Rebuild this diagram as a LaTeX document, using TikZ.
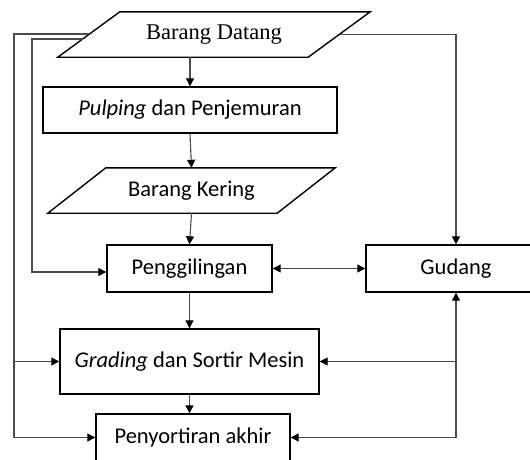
\documentclass[tikz,border=0pt]{standalone}
\usepackage{fontspec}
\setmainfont{Carlito}
\newfontfamily\sansf{Carlito}
\newfontfamily\serf{Liberation Serif}
\usetikzlibrary{arrows.meta,calc}
\tikzset{
  box/.style={draw=black, line width=1.4pt, inner sep=0pt, align=center,
              font=\sansf\fontsize{22.5}{27}\selectfont},
  plain/.style={inner sep=0pt, align=center},
  conn/.style={draw=black!70, line width=1.1pt},
  arr/.style={conn, -{Triangle[length=8pt,width=8pt,color=black]}},
  barr/.style={conn, {Triangle[length=8pt,width=8pt,color=black]}-{Triangle[length=8pt,width=8pt,color=black]}},
  para/.style={draw=black, line width=1.4pt, line join=miter}
}
\begin{document}
\begin{tikzpicture}[x=1pt,y=-1pt]
\useasboundingbox (0,0) rectangle (530,459);
\clip (0,0) rectangle (530,459);
% nodes
\node[plain, minimum width=312pt, minimum height=45pt, font=\serf\fontsize{22.5}{27}\selectfont] (bd) at (214,34.5) {Barang Datang};
\node[box, minimum width=294pt, minimum height=46pt] (pul) at (190,110) {\textit{Pulping} dan Penjemuran};
\node[plain, minimum width=287pt, minimum height=45pt, font=\sansf\fontsize{22.5}{27}\selectfont] (bk) at (191.5,190.5) {Barang Kering};
\node[box, minimum width=165pt, minimum height=47pt] (pg) at (189.5,268.5) {Penggilingan};
\node[box, minimum width=180pt, minimum height=47pt] (gd) at (456,268.5) {Gudang};
\node[box, minimum width=259pt, minimum height=65pt] (gr) at (189.5,361.5) {\textit{Grading} dan Sortir Mesin};
\node[box, minimum width=194pt, minimum height=47pt] (pen) at (193,437.5) {Penyortiran akhir};
% parallelograms
\draw[para] (bd.south west) -- ([xshift=62pt]bd.north west) -- (bd.north east) -- ([xshift=-62pt]bd.south east) -- cycle;
\draw[para] (bk.south west) -- ([xshift=58pt]bk.north west) -- (bk.north east) -- ([xshift=-58pt]bk.south east) -- cycle;
% helper coordinates on parallelogram edges
\coordinate (bdL1) at ($(bd.south west)!0.511!([xshift=62pt]bd.north west)$);
\coordinate (bdL2) at ($(bd.south west)!0.40!([xshift=62pt]bd.north west)$);
\coordinate (bdR) at ($(bd.north east)!0.49!([xshift=-62pt]bd.south east)$);
\coordinate (outx) at (14,0);
\coordinate (inx) at (32,0);
% vertical flow
\draw[arr] (bd.south -| pul.north) -- (pul.north);
\draw[arr] (pul.south) -- (bk.north);
\draw[arr] (bk.south) -- (pg.north);
\draw[arr] (pg.south) -- (gr.north);
\draw[arr] (gr.south) -- (gr.south |- pen.north);
% Penggilingan <-> Gudang
\draw[barr] (pg.east) -- (gd.west);
% right feed to Gudang
\draw[arr] (bdR) -| (gd.north);
% inner left feed to Penggilingan
\draw[arr] (bdL2) -| ([yshift=-3.5pt]inx |- pg.west) -- ([yshift=-3.5pt]pg.west);
% outer left feed
\draw[conn] (bdL1) -| (outx |- pen.west);
\draw[arr] (outx |- pen.west) -- (pen.west);
\draw[arr] (outx |- gr.west) -- (gr.west);
% from Gudang down
\draw[arr] (gd.south |- pen.east) -- (gd.south);
\draw[arr] (gd.south |- pen.east) -- (pen.east);
\draw[arr] (gd.south |- gr.east) -- (gr.east);
\end{tikzpicture}
\end{document}
